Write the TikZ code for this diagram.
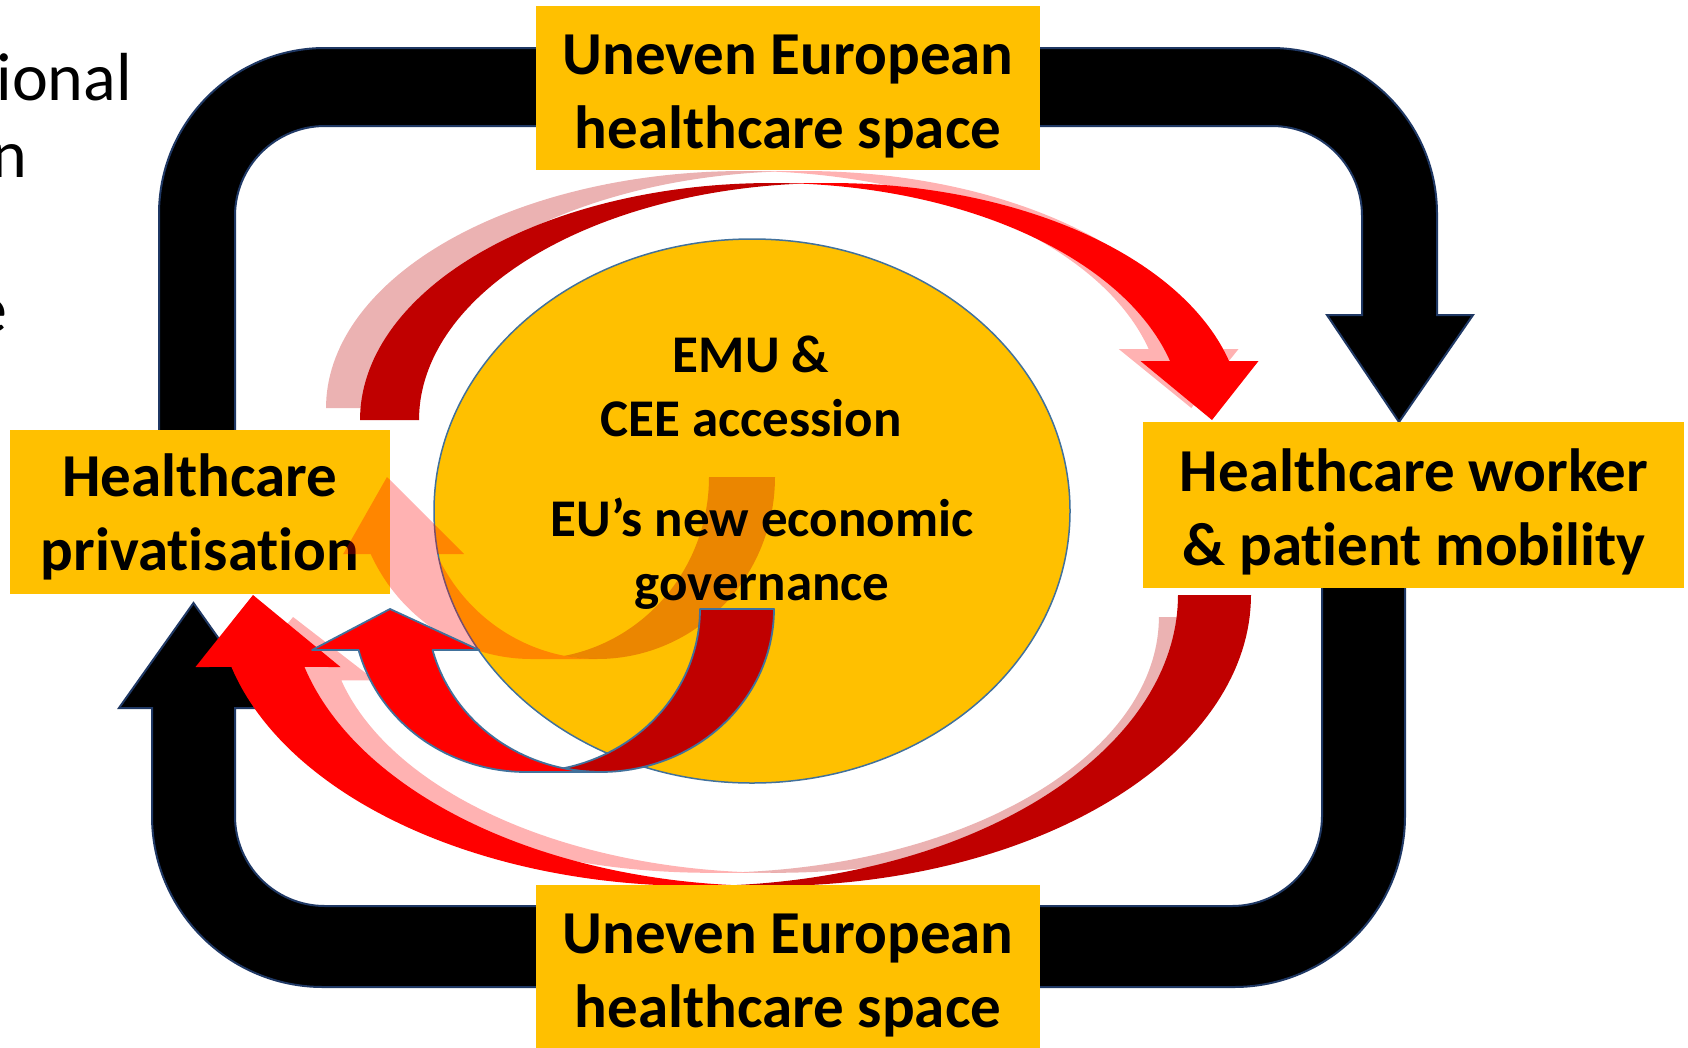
\documentclass[tikz,border=0pt]{standalone}
\usepackage{fontspec}
\setmainfont{Carlito}[Ligatures=NoCommon]
\usetikzlibrary{shapes.geometric}
\definecolor{gold}{HTML}{FFC000}
\definecolor{dred}{HTML}{C00000}
\definecolor{bred}{HTML}{FF0000}
\definecolor{eblue}{HTML}{41719C}
\definecolor{navy}{HTML}{1F3864}
% curved arrows built from elliptic arcs (pixel coordinates, y downwards)
\newcommand\ShpTopDark{plot[domain=180:85.89,samples=70,variable=\t] ({771.5+411.5*cos(\t)},{420-237*sin(\t)}) -- plot[domain=94.11:180,samples=70,variable=\t] ({830.5+411.5*cos(\t)},{420-237*sin(\t)}) -- cycle}
\newcommand\ShpTopBright{(771.5,183) -- (830.5,183) -- plot[domain=90:14.41,samples=70,variable=\t] ({830.5+411.5*cos(\t)},{420-237*sin(\t)}) -- (1258.5,361) -- (1212,420) -- (1140.5,361) -- plot[domain=14.41:90,samples=70,variable=\t] ({771.5+411.5*cos(\t)},{420-237*sin(\t)}) -- cycle}
\newcommand\ShpBotDark{plot[domain=0:-94.35,samples=70,variable=\t] ({770.25+480.75*cos(\t)},{595-291*sin(\t)}) -- plot[domain=-85.65:0,samples=70,variable=\t] ({697.25+480.75*cos(\t)},{595-291*sin(\t)}) -- cycle}
\newcommand\ShpBotBright{(770.25,886) -- (697.25,886) -- plot[domain=-90:-165.68,samples=70,variable=\t] ({697.25+480.75*cos(\t)},{595-291*sin(\t)}) -- (195.5,667) -- (253,595) -- (340.5,667) -- plot[domain=-165.68:-90,samples=70,variable=\t] ({770.25+480.75*cos(\t)},{595-291*sin(\t)}) -- cycle}
\newcommand\ShpSmDark{plot[domain=0:-102.31,samples=60,variable=\t] ({600.5+173.5*cos(\t)},{609-163*sin(\t)}) -- plot[domain=-77.69:0,samples=60,variable=\t] ({526.5+173.5*cos(\t)},{609-163*sin(\t)}) -- cycle}
\newcommand\ShpSmBright{(600.5,772) -- (526.5,772) -- plot[domain=-90:-165.43,samples=60,variable=\t] ({526.5+173.5*cos(\t)},{609-163*sin(\t)}) -- (312.1,650) -- (390,609) -- (479.1,650) -- plot[domain=-165.43:-90,samples=60,variable=\t] ({600.5+173.5*cos(\t)},{609-163*sin(\t)}) -- cycle}
\newcommand\ShpShDark{plot[domain=0:-100.71,samples=60,variable=\t] ({597.5+177.5*cos(\t)},{477-182*sin(\t)}) -- plot[domain=-79.29:0,samples=60,variable=\t] ({531.5+177.5*cos(\t)},{477-182*sin(\t)}) -- cycle}
\newcommand\ShpShBright{(597.5,659) -- (531.5,659) -- plot[domain=-90:-154.97,samples=60,variable=\t] ({531.5+177.5*cos(\t)},{477-182*sin(\t)}) -- (343.2,554) -- (387,477) -- (464.2,554) -- plot[domain=-154.97:-90,samples=60,variable=\t] ({597.5+177.5*cos(\t)},{477-182*sin(\t)}) -- cycle}
\begin{document}
\begin{tikzpicture}[x=1pt,y=-1pt,
  blackarrow/.style={fill=black, draw=navy, line width=2},
  goldbox/.style={fill=gold, inner sep=0},
  boxtext/.style={font=\bfseries\fontsize{61}{74}\selectfont, align=center, inner sep=0},
  midtext/.style={font=\bfseries\fontsize{53}{64}\selectfont, align=center, inner sep=0},
  fragtext/.style={font=\fontsize{68}{78}\selectfont, anchor=base east, inner sep=0},
  smalloutline/.style={draw=eblue, line width=1.8, line join=round}]
\useasboundingbox (0,0) rectangle (1688,1047);
\clip (0,0) rectangle (1688,1047);
\fill[white] (0,0) rectangle (1688,1047);

% cut-off text at the left edge
\node[fragtext] (fragA) at (132,100) {ional};
\node[fragtext] (fragB) at (27,177) {n};
\node[fragtext] (fragC) at (8,332) {e};

% black loop arrows
\draw[blackarrow] (159,520) -- (159,214) .. controls (159,122.3) and (233.3,48) .. (325,48) -- (1271,48) .. controls (1362.7,48) and (1437,122.3) .. (1437,214) -- (1437,315) -- (1473,315) -- (1399,422) -- (1327,315) -- (1362,315) -- (1362,216) .. controls (1362,166.3) and (1321.7,126) .. (1272,126) -- (325,126) .. controls (275.3,126) and (235,166.3) .. (235,216) -- (235,520) -- cycle;
\draw[blackarrow] (1405,540) -- (1405,816) .. controls (1405,910.4) and (1328.4,987) .. (1234,987) -- (323,987) .. controls (228.6,987) and (152,910.4) .. (152,816) -- (152,708) -- (119,708) -- (193.5,603) -- (268,708) -- (235,708) -- (235,816) .. controls (235,865.7) and (275.3,906) .. (325,906) -- (1232,906) .. controls (1281.7,906) and (1322,865.7) .. (1322,816) -- (1322,540) -- cycle;

% top red curved arrow with its shadow
\begin{scope}[opacity=0.3, shift={(-39.6,-12)}, xscale=1.0156]
  \fill[dred] \ShpTopDark;
  \fill[bred] \ShpTopBright;
\end{scope}
\fill[dred] \ShpTopDark;
\fill[bred] \ShpTopBright;

% bottom red curved arrow with its shadow
\begin{scope}[opacity=0.3, shift={(56.3,94)}, xscale=0.936, yscale=0.879]
  \fill[dred] \ShpBotDark;
  \fill[bred] \ShpBotBright;
\end{scope}
\fill[dred] \ShpBotDark;
\fill[bred] \ShpBotBright;

% boxes
\node[goldbox, minimum width=504, minimum height=164] (topbox) at (788,88) {};
\node[boxtext] (toptext) at (788,97) {Uneven European\\healthcare space};
\node[goldbox, minimum width=504, minimum height=164] (botbox) at (788,967) {};
\node[boxtext] (bottext) at (788,976) {Uneven European\\healthcare space};
\node[goldbox, minimum width=380, minimum height=164] (leftbox) at (200,512) {};
\node[boxtext] (lefttext) at (200,517) {Healthcare\\privatisation};
\node[goldbox, minimum width=541, minimum height=166] (rightbox) at (1413.5,505) {};
\node[boxtext] (righttext) at (1414,512) {Healthcare worker\\\& patient mobility};

% central ellipse
\node[ellipse, fill=gold, draw=eblue, line width=1.5, minimum width=636, minimum height=544, inner sep=0] (emu) at (752,511) {};

% translucent reflection of the small arrow
\begin{scope}[opacity=0.3]
  \fill[dred] \ShpShDark;
  \fill[bred] \ShpShBright;
\end{scope}

\node[midtext] (emutext) at (751,386) {EMU \&\\CEE accession};
\node[midtext] (govtext) at (762,554) {EU’s new economic\\governance};

% small red curved arrow
\filldraw[fill=dred, smalloutline] \ShpSmDark;
\filldraw[fill=bred, smalloutline] \ShpSmBright;
\end{tikzpicture}
\end{document}
